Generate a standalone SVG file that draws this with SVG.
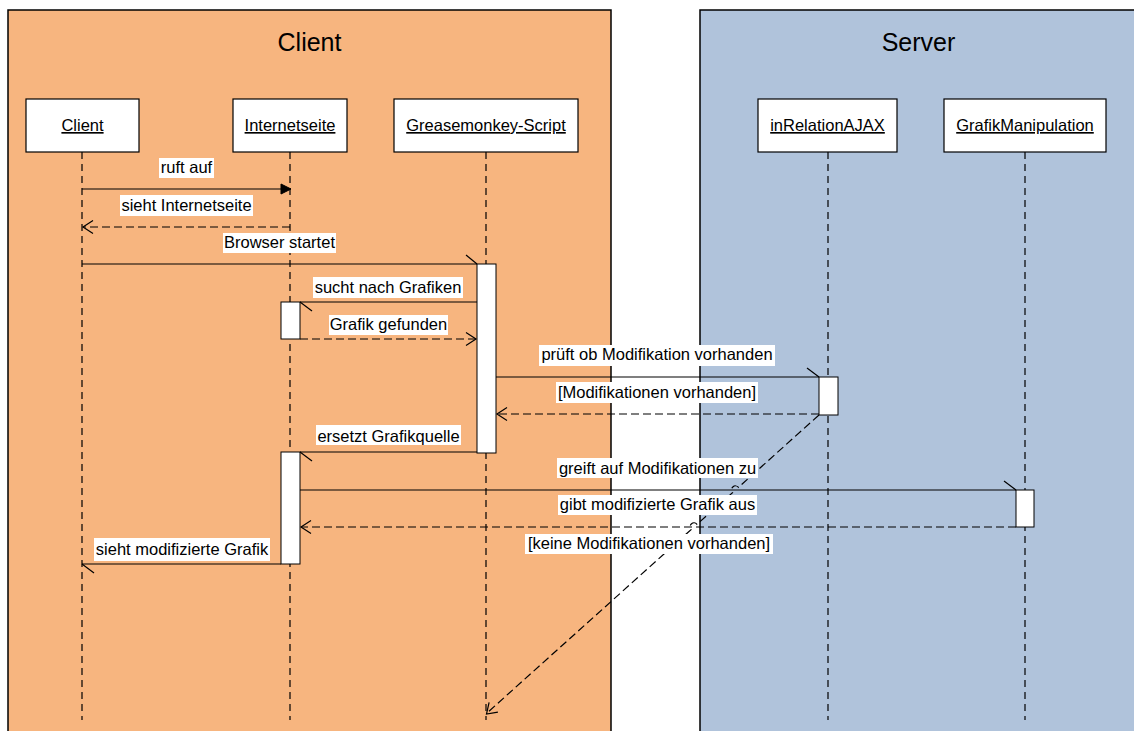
<svg xmlns="http://www.w3.org/2000/svg" width="1134" height="731" viewBox="0 0 1134 731">
  <style>
    text { font-family: "Liberation Sans", Arial, sans-serif; fill: #000; }
    .title { font-size: 25px; text-anchor: middle; }
    .head { font-size: 16.5px; text-anchor: middle; text-decoration: underline; }
    .lbl { font-size: 16.5px; text-anchor: middle; }
    .lblbg { fill: #fff; stroke: none; }
    .box { fill: #fff; stroke: #000; stroke-width: 1.2; }
    .act { fill: #fff; stroke: #000; stroke-width: 1; }
    .life { stroke: #000; stroke-width: 1.2; stroke-dasharray: 7 5; fill: none; }
    .msg { stroke: #000; stroke-width: 1.2; fill: none; }
    .ret { stroke: #000; stroke-width: 1.2; stroke-dasharray: 8 4; fill: none; }
    .tip { stroke: #000; stroke-width: 1.2; fill: none; }
  </style>

  <!-- swimlane frames -->
  <g id="frame-client">
    <rect x="8" y="10" width="603" height="740" fill="#F7B57F" stroke="#000" stroke-width="1.5"/>
    <text class="title" x="309.5" y="51">Client</text>
  </g>
  <g id="frame-server">
    <rect x="700" y="10" width="440" height="740" fill="#B0C3DB" stroke="#000" stroke-width="1.5"/>
    <text class="title" x="918.5" y="51">Server</text>
  </g>

  <!-- lifelines -->
  <g id="lifelines">
    <line class="life" x1="82" y1="152" x2="82" y2="720"/>
    <line class="life" x1="290" y1="152" x2="290" y2="720"/>
    <line class="life" x1="486" y1="152" x2="486" y2="720"/>
    <line class="life" x1="828" y1="152" x2="828" y2="720"/>
    <line class="life" x1="1025" y1="152" x2="1025" y2="720"/>
  </g>

  <!-- participants -->
  <g id="node-client">
    <rect class="box" x="26" y="99" width="113" height="53"/>
    <text class="head" x="82.5" y="131">Client</text>
  </g>
  <g id="node-internetseite">
    <rect class="box" x="233" y="99" width="114" height="53"/>
    <text class="head" x="290" y="131">Internetseite</text>
  </g>
  <g id="node-greasemonkey">
    <rect class="box" x="394" y="99" width="184" height="53"/>
    <text class="head" x="486" y="131">Greasemonkey-Script</text>
  </g>
  <g id="node-inrelationajax">
    <rect class="box" x="758" y="99" width="139" height="53"/>
    <text class="head" x="827.5" y="131">inRelationAJAX</text>
  </g>
  <g id="node-grafikmanipulation">
    <rect class="box" x="944" y="99" width="162" height="53"/>
    <text class="head" x="1025" y="131">GrafikManipulation</text>
  </g>

  <!-- activation bars -->
  <g id="activations">
    <rect class="act" x="477" y="264" width="19" height="189"/>
    <rect class="act" x="281" y="302" width="19" height="37"/>
    <rect class="act" x="819" y="377" width="19" height="38"/>
    <rect class="act" x="281" y="452" width="19" height="112"/>
    <rect class="act" x="1016" y="490" width="18" height="37"/>
  </g>

  <!-- messages -->
  <g id="connectors">
    <!-- ruft auf -->
    <line class="msg" x1="82" y1="189" x2="283" y2="189"/>
    <polygon points="281,184 291,189 281,194" fill="#000" stroke="#000" stroke-width="1"/>
    <!-- sieht Internetseite -->
    <line class="ret" x1="290" y1="227" x2="83" y2="227"/>
    <polyline class="tip" points="93,220.5 83,227 93,233.5"/>
    <!-- Browser startet -->
    <line class="msg" x1="82" y1="264" x2="477" y2="264"/>
    <line class="tip" x1="466" y1="255" x2="477" y2="264"/>
    <!-- sucht nach Grafiken -->
    <line class="msg" x1="477" y1="302" x2="300" y2="302"/>
    <line class="tip" x1="312" y1="311" x2="300" y2="302"/>
    <!-- Grafik gefunden -->
    <line class="ret" x1="300" y1="339" x2="476" y2="339"/>
    <polyline class="tip" points="466,332.5 476,339 466,345.5"/>
    <!-- prüft ob Modifikation vorhanden -->
    <line class="msg" x1="496" y1="377" x2="819" y2="377"/>
    <line class="tip" x1="807" y1="368" x2="819" y2="377"/>
    <!-- [Modifikationen vorhanden] -->
    <line class="ret" x1="819" y1="414" x2="497" y2="414"/>
    <polyline class="tip" points="507,407.5 497,414 507,420.5"/>
    <!-- ersetzt Grafikquelle -->
    <line class="msg" x1="477" y1="452" x2="300" y2="452"/>
    <line class="tip" x1="312" y1="461" x2="300" y2="452"/>
    <!-- greift auf Modifikationen zu -->
    <line class="msg" x1="300" y1="490" x2="1016" y2="490"/>
    <line class="tip" x1="1004" y1="481" x2="1016" y2="490"/>
    <!-- gibt modifizierte Grafik aus -->
    <line class="ret" x1="1016" y1="527" x2="301" y2="527"/>
    <polyline class="tip" points="311,520.5 301,527 311,533.5"/>
    <!-- sieht modifizierte Grafik -->
    <line class="msg" x1="281" y1="564" x2="82" y2="564"/>
    <line class="tip" x1="94" y1="573" x2="82" y2="564"/>
    <!-- [keine Modifikationen vorhanden]: diagonal with line jumps -->
    <path class="ret" d="M819,415 L738.5,487.3 A4,4 0 0 0 732.5,492.7 L697,524.3 A4,4 0 0 0 691,529.7 L487,713"/>
    <polyline class="tip" points="489.1,702.4 486.5,714 497.9,712.1"/>
  </g>

  <!-- message labels -->
  <g id="labels">
    <rect class="lblbg" x="159" y="158" width="55" height="20"/>
    <text class="lbl" x="186.5" y="173">ruft auf</text>
    <rect class="lblbg" x="120" y="195" width="133" height="21"/>
    <text class="lbl" x="186.5" y="210.5">sieht Internetseite</text>
    <rect class="lblbg" x="223" y="233" width="113" height="20"/>
    <text class="lbl" x="279.5" y="247.5">Browser startet</text>
    <rect class="lblbg" x="313" y="277" width="150" height="21"/>
    <text class="lbl" x="388" y="293">sucht nach Grafiken</text>
    <rect class="lblbg" x="329" y="315" width="119" height="20"/>
    <text class="lbl" x="388.5" y="329.5">Grafik gefunden</text>
    <rect class="lblbg" x="539" y="345" width="236" height="21"/>
    <text class="lbl" x="657" y="360">prüft ob Modifikation vorhanden</text>
    <rect class="lblbg" x="556" y="382" width="202" height="21"/>
    <text class="lbl" x="657" y="397.5">[Modifikationen vorhanden]</text>
    <rect class="lblbg" x="316" y="425" width="145" height="20"/>
    <text class="lbl" x="388.5" y="442">ersetzt Grafikquelle</text>
    <rect class="lblbg" x="557" y="458" width="201" height="20"/>
    <text class="lbl" x="657.5" y="473.5">greift auf Modifikationen zu</text>
    <rect class="lblbg" x="558" y="495" width="199" height="20"/>
    <text class="lbl" x="657.5" y="510">gibt modifizierte Grafik aus</text>
    <rect class="lblbg" x="525" y="534" width="248" height="20"/>
    <text class="lbl" x="649" y="549">[keine Modifikationen vorhanden]</text>
    <rect class="lblbg" x="94" y="538" width="176" height="23"/>
    <text class="lbl" x="182" y="555">sieht modifizierte Grafik</text>
  </g>
</svg>
